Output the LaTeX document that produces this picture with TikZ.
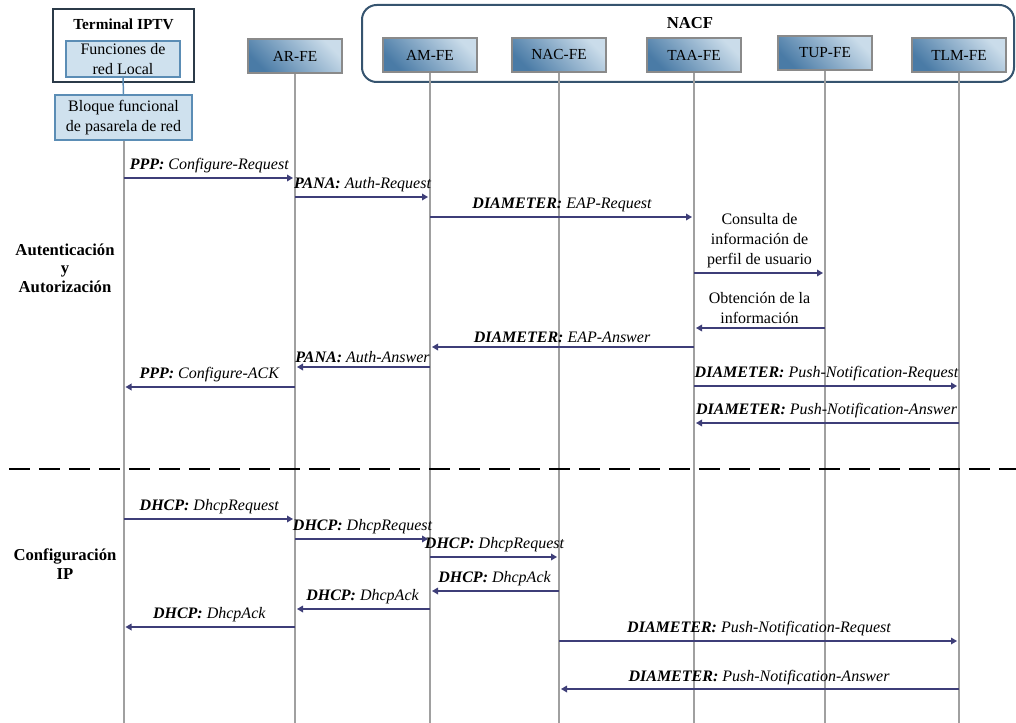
\documentclass[tikz,border=0pt]{standalone}
\usepackage{fontspec}
\setmainfont{Liberation Serif}
\usetikzlibrary{arrows.meta}

\definecolor{fedark}{HTML}{4A7BA6}
\definecolor{felight}{HTML}{CADCEA}
\definecolor{feborder}{HTML}{8A8A8A}
\definecolor{lifec}{HTML}{A0A0A0}
\definecolor{msgc}{HTML}{3E3E78}
\definecolor{nacfc}{HTML}{36546F}
\definecolor{termc}{HTML}{2B3A48}
\definecolor{lightfill}{HTML}{CFE1EE}
\definecolor{lightdraw}{HTML}{5B8DB5}

\begin{document}
\begin{tikzpicture}[x=0.75pt,y=-0.75pt,
  txt/.style={font=\fontsize{11.5}{13.5}\selectfont},
  febox/.style={draw=feborder, line width=1.5pt, minimum width=71pt, minimum height=25pt,
    inner sep=0pt, bottom color=fedark, top color=felight, shading angle=-45, txt},
  lightbox/.style={draw=lightdraw, line width=1.1pt, fill=lightfill, inner sep=0pt,
    align=center, font=\fontsize{12}{14.5}\selectfont},
  lifeline/.style={draw=lifec, line width=1.5pt},
  msgline/.style={draw=msgc, line width=0.9pt, -{Triangle[length=4.5pt,width=5pt]}, shorten >=1.5pt},
  msglabel/.style={midway, above=3pt, inner sep=0pt, align=center,
    font=\fontsize{12}{15}\selectfont\itshape},
  plainlabel/.style={midway, above=3pt, inner sep=0pt, align=center,
    font=\fontsize{12}{15}\selectfont},
  section/.style={font=\fontsize{12.5}{14}\selectfont\bfseries, align=center}
]
\useasboundingbox (0,0) rectangle (1016,723);

% NACF group frame
\draw[draw=nacfc, line width=1.5pt, rounded corners=11pt] (362,5) rectangle (1014,82);
\node[font=\fontsize{12.5}{14}\selectfont\bfseries] (nacf) at (690,23) {NACF};

% Terminal IPTV with its internal blocks
\node[draw=termc, line width=1.9pt, minimum width=105.75pt, minimum height=54.75pt, inner sep=0pt]
  (terminal) at (123.5,45.5) {};
\node[font=\fontsize{11.5}{14}\selectfont\bfseries] (termtitle) at (123.5,24) {Terminal IPTV};
\node[lightbox, minimum width=85.5pt, minimum height=27pt] (local) at (123,59) {Funciones de\\red Local};
\node[lightbox, minimum width=102.75pt, minimum height=33.75pt] (gateway) at (123.5,117.5)
  {Bloque funcional\\de pasarela de red};
\draw[draw=lightdraw, line width=1.1pt] (local.south) -- (gateway.north);

% Functional entities
\node[febox] (ar)  at (295,56) {AR-FE};
\node[febox] (am)  at (430,55) {AM-FE};
\node[febox] (nac) at (559,55) {NAC-FE};
\node[febox] (taa) at (694,55) {TAA-FE};
\node[febox] (tup) at (825,53) {TUP-FE};
\node[febox] (tlm) at (959,55) {TLM-FE};

% Lifelines
\coordinate (bottom) at (0,723);
\draw[lifeline] (gateway.south) -- (gateway.south |- bottom);
\foreach \n in {ar,am,nac,taa,tup,tlm}
  \draw[lifeline] (\n.south) -- (\n.south |- bottom);

% Phase separator
\coordinate (sepL) at (9,469);
\coordinate (sepR) at (1016,469);
\draw[black, line width=1.6pt, dash pattern=on 15.75pt off 6.75pt] (sepL) -- (sepR);

% Phase titles
\node[section] (auth) at (65,268) {Autenticación\\y\\Autorización};
\node[section] (ipconf) at (65,564) {Configuración\\IP};

% Authentication and authorization
\draw[msgline] (gateway |- 0,178) -- (ar |- 0,178)
  node[msglabel] {\textbf{PPP:} Configure-Request};
\draw[msgline] (ar |- 0,197) -- (am |- 0,197)
  node[msglabel] {\textbf{PANA:} Auth-Request};
\draw[msgline] (am |- 0,217) -- (taa |- 0,217)
  node[msglabel] {\textbf{DIAMETER:} EAP-Request};
\draw[msgline] (taa |- 0,273) -- (tup |- 0,273)
  node[plainlabel] {Consulta de\\información de\\perfil de usuario};
\draw[msgline] (tup |- 0,328) -- (taa |- 0,328)
  node[plainlabel] {Obtención de la\\información};
\draw[msgline] (taa |- 0,347) -- (am |- 0,347)
  node[msglabel] {\textbf{DIAMETER:} EAP-Answer};
\draw[msgline] (am |- 0,367) -- (ar |- 0,367)
  node[msglabel] {\textbf{PANA:} Auth-Answer};
\draw[msgline] (ar |- 0,387) -- (gateway |- 0,387)
  node[msglabel] {\textbf{PPP:} Configure-ACK};
\draw[msgline] (taa |- 0,386) -- (tlm |- 0,386)
  node[msglabel] {\textbf{DIAMETER:} Push-Notification-Request};
\draw[msgline] (tlm |- 0,423) -- (taa |- 0,423)
  node[msglabel] {\textbf{DIAMETER:} Push-Notification-Answer};

% IP configuration
\draw[msgline] (gateway |- 0,519) -- (ar |- 0,519)
  node[msglabel] {\textbf{DHCP:} DhcpRequest};
\draw[msgline] (ar |- 0,539) -- (am |- 0,539)
  node[msglabel] {\textbf{DHCP:} DhcpRequest};
\draw[msgline] (am |- 0,557) -- (nac |- 0,557)
  node[msglabel] {\textbf{DHCP:} DhcpRequest};
\draw[msgline] (nac |- 0,591) -- (am |- 0,591)
  node[msglabel] {\textbf{DHCP:} DhcpAck};
\draw[msgline] (am |- 0,609) -- (ar |- 0,609)
  node[msglabel] {\textbf{DHCP:} DhcpAck};
\draw[msgline] (ar |- 0,627) -- (gateway |- 0,627)
  node[msglabel] {\textbf{DHCP:} DhcpAck};
\draw[msgline] (nac |- 0,641) -- (tlm |- 0,641)
  node[msglabel] {\textbf{DIAMETER:} Push-Notification-Request};
\draw[msgline] (tlm |- 0,689) -- (nac |- 0,689)
  node[msglabel] {\textbf{DIAMETER:} Push-Notification-Answer};
\end{tikzpicture}
\end{document}
